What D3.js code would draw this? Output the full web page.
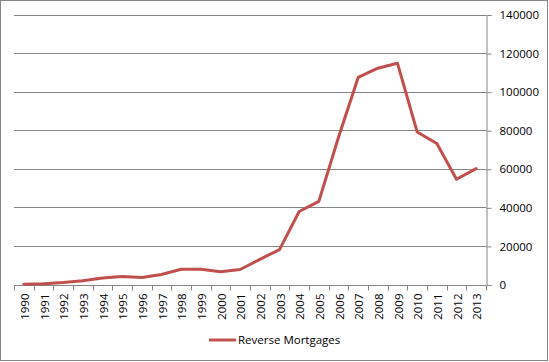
<!DOCTYPE html>
<html>
<head>
<meta charset="utf-8">
<title>Reverse Mortgages</title>
<script src="https://d3js.org/d3.v7.min.js"></script>
<style>
  body { margin: 0; background: #fff; }
  text { font-family: "Open Sans", sans-serif; font-size: 11.5px; fill: #000; }
</style>
</head>
<body>
<script>
// data
var years = ["1990","1991","1992","1993","1994","1995","1996","1997","1998","1999","2000","2001",
             "2002","2003","2004","2005","2006","2007","2008","2009","2010","2011","2012","2013"];
var reverseMortgages = [157, 389, 1019, 1964, 3365, 4165, 3596, 5208, 7895, 7923, 6637, 7781,
                        13049, 18097, 37829, 43131, 76351, 107367, 112154, 114692, 79106, 73131, 54591, 60091];
var yTicks = [0, 20000, 40000, 60000, 80000, 100000, 120000, 140000];
var seriesName = "Reverse Mortgages";

var W = 549, H = 362;
var plot = {left: 14, right: 486, top: 14.5, bottom: 284.5};
var gridColor = "#868686", lineColor = "#C0504D";

var svg = d3.select("body").append("svg")
    .attr("width", W).attr("height", H);

// outer border
svg.append("rect")
    .attr("x", 0.5).attr("y", 0.5)
    .attr("width", W - 2).attr("height", H - 2)
    .attr("fill", "#fff").attr("stroke", gridColor);

var x = d3.scaleBand().domain(years).range([plot.left, plot.right]);
var y = d3.scaleLinear().domain([0, 140000]).range([plot.bottom, plot.top]);

// gridlines
svg.append("g").selectAll("line")
    .data(yTicks.slice(1))
    .enter().append("line")
    .attr("x1", plot.left).attr("x2", plot.right)
    .attr("y1", function(d) { return Math.round(y(d)) + 0.5; })
    .attr("y2", function(d) { return Math.round(y(d)) + 0.5; })
    .attr("stroke", gridColor);

// right axis
var yAxis = svg.append("g")
    .attr("transform", "translate(" + (plot.right + 0.5) + ",0.5)")
    .call(d3.axisRight(y).tickValues(yTicks).tickSize(5).tickPadding(8).tickFormat(d3.format("d")));
yAxis.select(".domain").attr("stroke", gridColor);
yAxis.selectAll(".tick line").attr("stroke", gridColor);
yAxis.selectAll(".tick text").attr("font-family", null).attr("font-size", null);

// bottom axis, ticks on category boundaries
var xAxis = svg.append("g")
    .attr("transform", "translate(0," + (Math.round(plot.bottom) + 0.5) + ")");
xAxis.append("line")
    .attr("x1", plot.left).attr("x2", plot.right)
    .attr("stroke", gridColor);
var bounds = years.map(function(d) { return x(d); }).concat([plot.right]);
xAxis.selectAll(".bt").data(bounds).enter().append("line")
    .attr("x1", function(d) { return Math.round(d) + 0.5; })
    .attr("x2", function(d) { return Math.round(d) + 0.5; })
    .attr("y1", 0).attr("y2", 5)
    .attr("stroke", gridColor);
xAxis.selectAll(".yl").data(years).enter().append("text")
    .attr("transform", function(d) {
        return "translate(" + (x(d) + x.bandwidth() / 2 + 1) + ",8) rotate(-90)";
    })
    .attr("text-anchor", "end")
    .attr("dy", "0.35em")
    .text(function(d) { return d; });

// the series line
var line = d3.line()
    .x(function(d, i) { return x(years[i]) + x.bandwidth() / 2; })
    .y(function(d) { return y(d); });

svg.append("path")
    .datum(reverseMortgages)
    .attr("d", line)
    .attr("fill", "none")
    .attr("stroke", lineColor)
    .attr("stroke-width", 3)
    .attr("stroke-linejoin", "round")
    .attr("stroke-linecap", "round");

// legend
var lg = svg.append("g").attr("transform", "translate(209,340)");
lg.append("line")
    .attr("x1", 0).attr("x2", 27)
    .attr("stroke", lineColor).attr("stroke-width", 3);
lg.append("text")
    .attr("x", 29).attr("dy", "0.35em")
    .text(seriesName);
</script>
</body>
</html>
